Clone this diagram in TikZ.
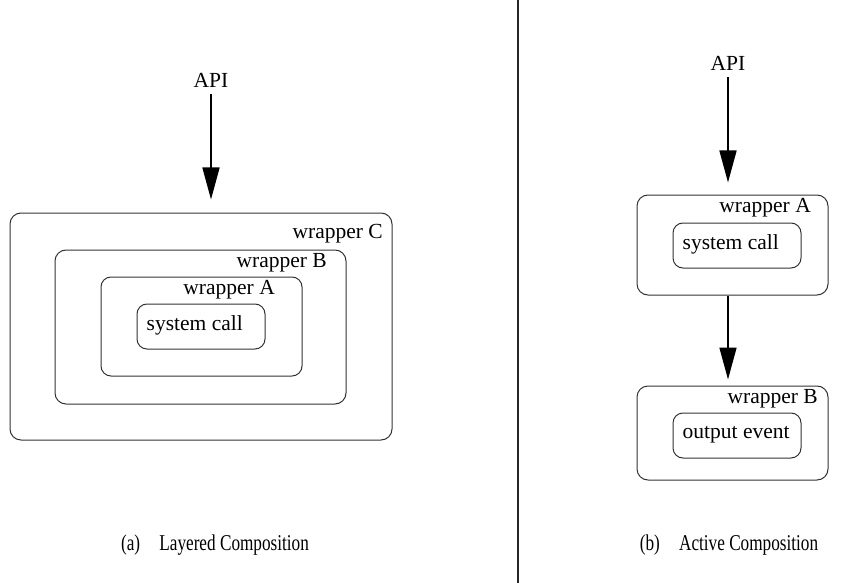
\documentclass[tikz,border=0pt]{standalone}
\usepackage{fontspec}
\setmainfont{Liberation Serif}
\usetikzlibrary{arrows.meta,calc}

\tikzset{
  frame/.style={draw=black!80, line width=1pt, rounded corners=11pt, inner sep=0pt},
  innerbox/.style={draw=black!80, line width=1pt, rounded corners=10pt, inner sep=0pt,
                   minimum width=128pt, minimum height=45pt},
  txt/.style={inner sep=0pt, font=\fontsize{21.5}{25}\selectfont},
  flow/.style={line width=1.6pt, -{Triangle[length=32pt,width=17pt]}},
  caption/.style={inner sep=0pt, font=\fontsize{21.5}{25}\selectfont}
}

\begin{document}
\begin{tikzpicture}[x=1pt, y=-1pt]
  \useasboundingbox (0,0) rectangle (865,583);

  % separator between the two panels
  \draw[line width=2pt, black!85] (518,0) -- (518,583);

  % ---------- (a) layered composition ----------
  \node[txt] (apiL) at (211,80) {API};
  \node[frame, minimum width=382pt, minimum height=227pt] (wC) at (201,326.5) {};
  \node[frame, minimum width=291pt, minimum height=154pt] (wB) at (200.5,327) {};
  \node[frame, minimum width=201pt, minimum height=99pt, rounded corners=10pt] (wA) at (201.5,326.5) {};
  \node[innerbox] (scL) at (201,326.5) {};
  \node[txt, anchor=east] (wCt) at (383,234) {wrapper C};
  \node[txt, anchor=east] (wBt) at (327,263) {wrapper B};
  \node[txt, anchor=east] (wAt) at (275,290) {wrapper A};
  \node[txt, anchor=west] (scLt) at ($(scL.west)+(10,-1)$) {system call};
  \draw[flow, shorten <=7pt, shorten >=13pt] (apiL.south) -- (apiL.south |- wC.north);

  \node[caption] (capA) at (215,545)
    {\scalebox{0.8}[1.05]{(a)\hspace{24pt}Layered Composition}};

  % ---------- (b) active composition ----------
  \node[txt] (apiR) at (728,63) {API};
  \node[frame, minimum width=191pt, minimum height=100pt] (rA) at (732.5,245) {};
  \node[innerbox] (scR) at (737,245.5) {};
  \node[txt, anchor=east] (rAt) at (811,208) {wrapper A};
  \node[txt, anchor=west] (scRt) at ($(scR.west)+(10,-1)$) {system call};

  \node[frame, minimum width=191pt, minimum height=94pt] (rB) at (732.5,433) {};
  \node[innerbox] (oeR) at (737,435.5) {};
  \node[txt, anchor=east] (rBt) at (818,399) {wrapper B};
  \node[txt, anchor=west] (oeRt) at ($(oeR.west)+(10,-1)$) {output event};

  \draw[flow, shorten <=7pt, shorten >=12pt] (apiR.south) -- (apiR.south |- rA.north);
  \draw[flow, shorten >=6pt] (rA.south -| apiR.south) -- (rB.north -| apiR.south);

  \node[caption] (capB) at (729,545)
    {\scalebox{0.8}[1.05]{(b)\hspace{24pt}Active Composition}};
\end{tikzpicture}
\end{document}
